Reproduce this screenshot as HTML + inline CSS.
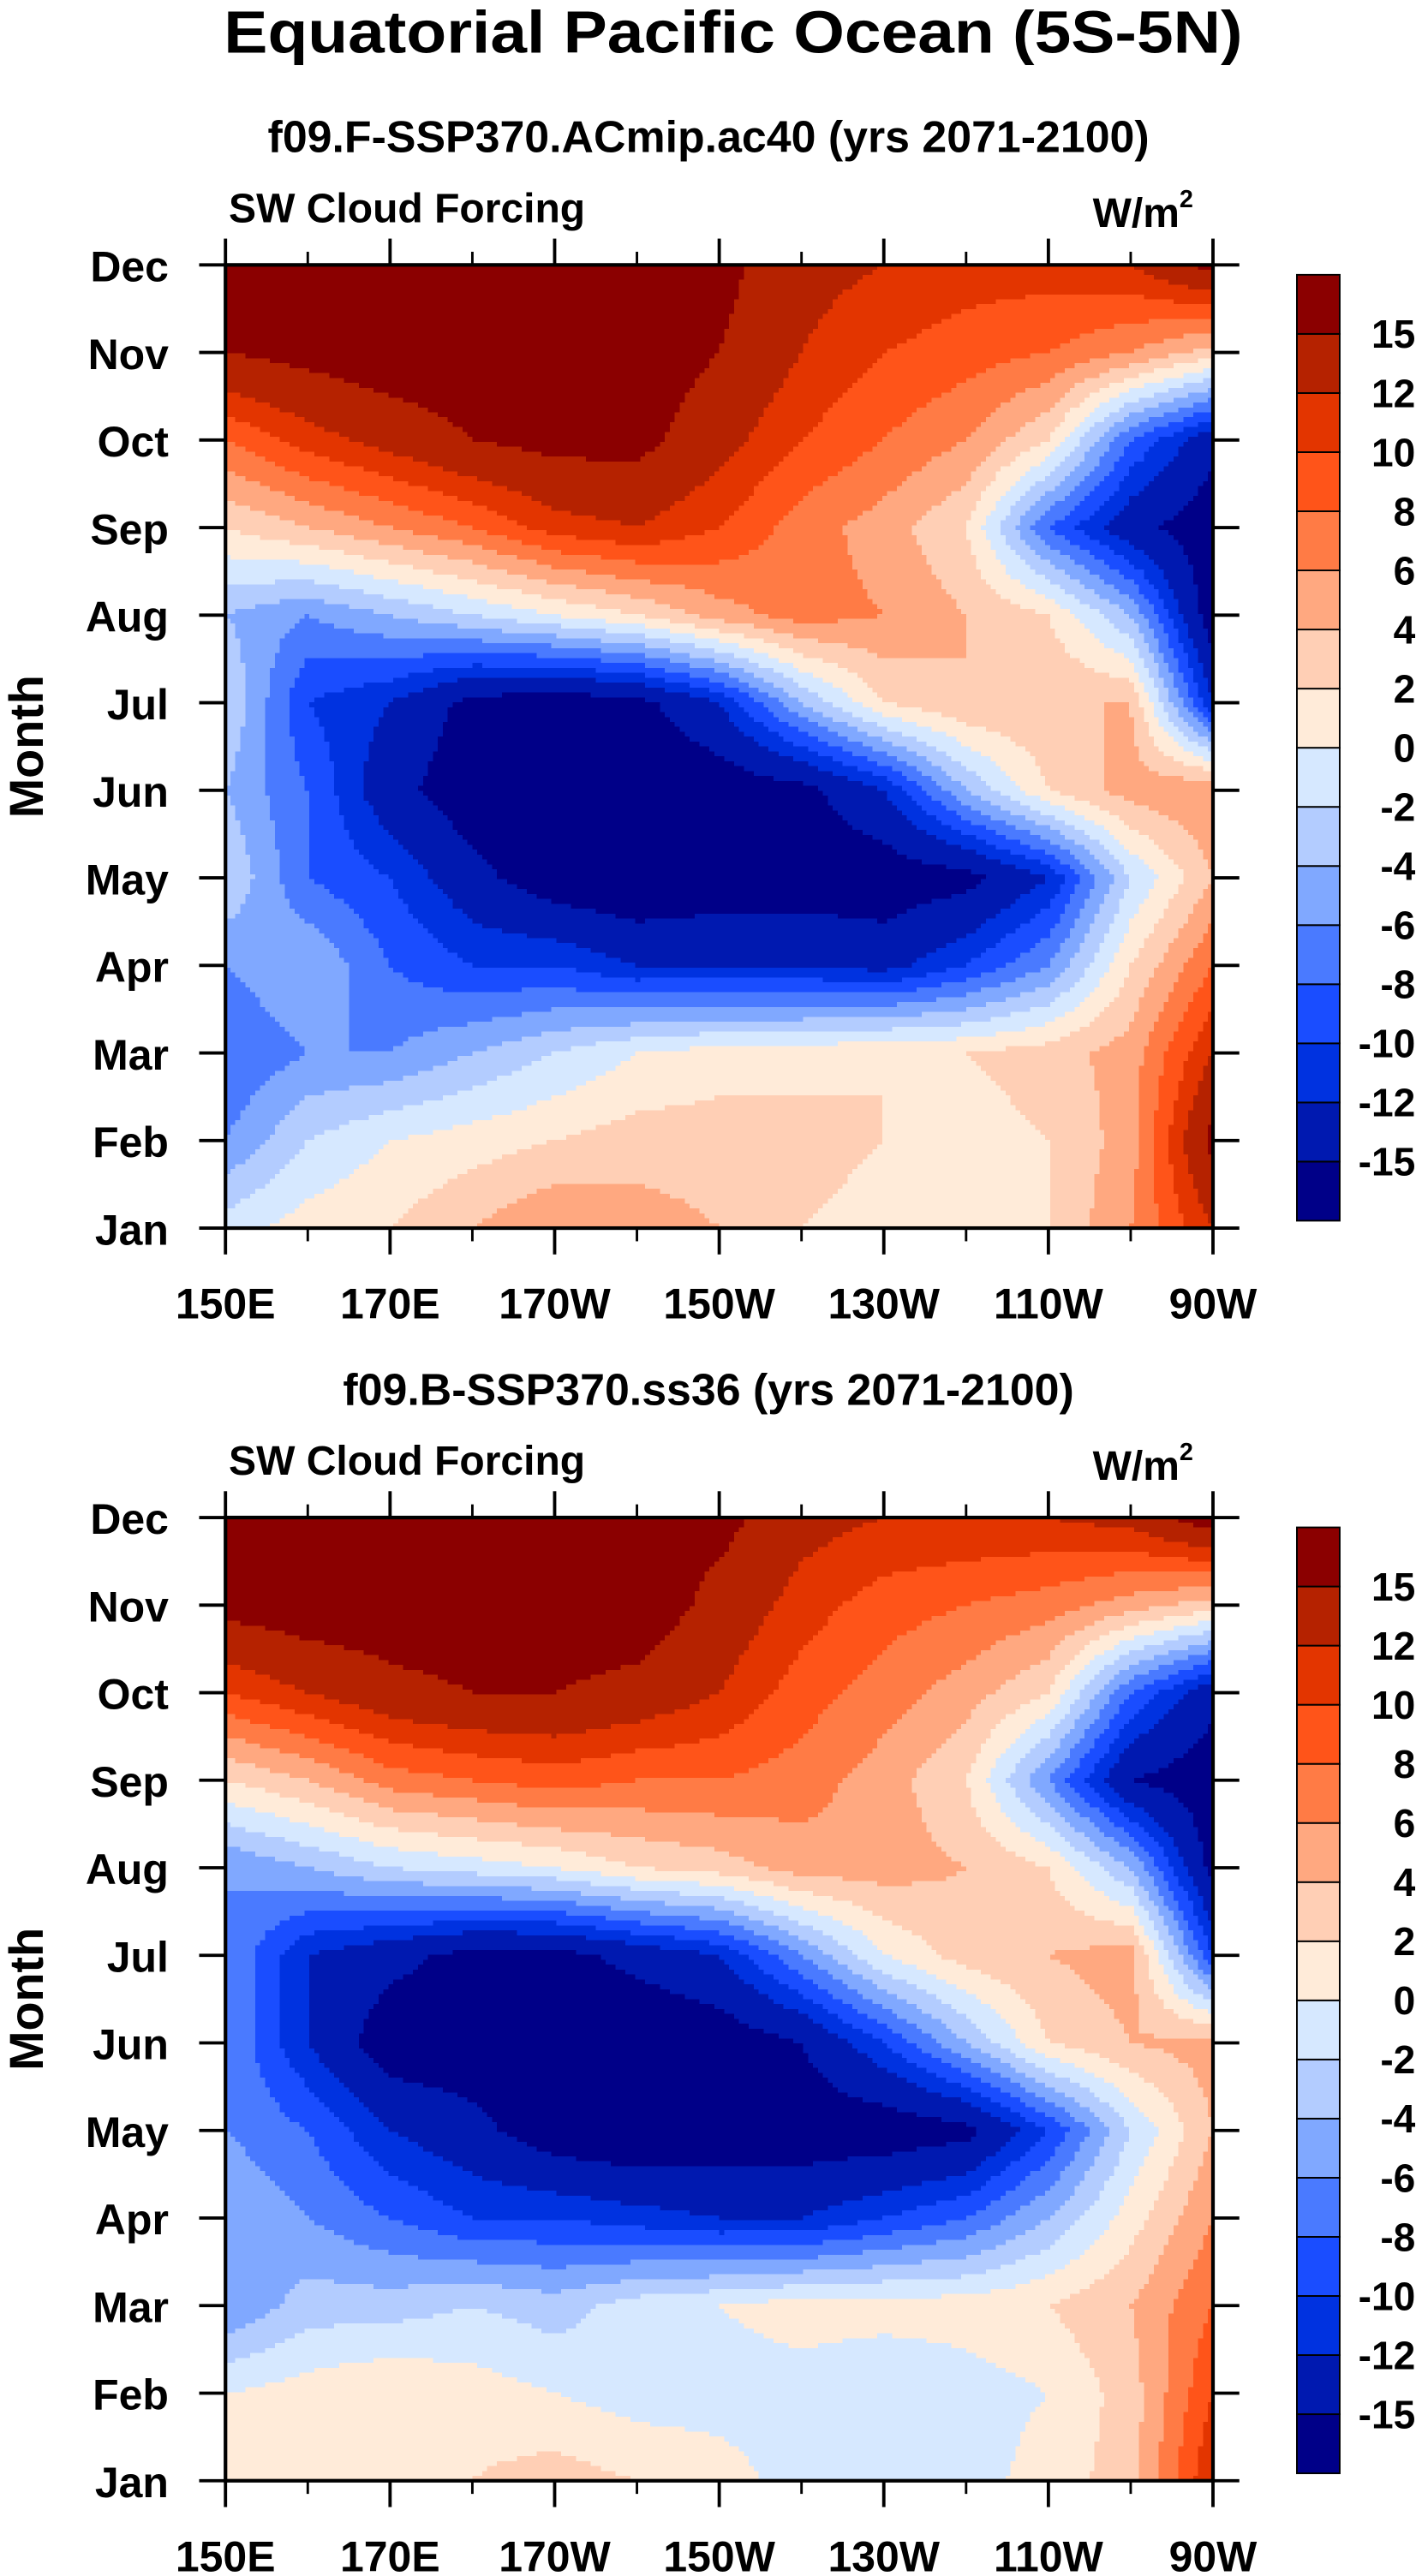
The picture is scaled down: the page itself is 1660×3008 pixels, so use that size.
<!DOCTYPE html>
<html><head><meta charset="utf-8"><style>
html,body{margin:0;padding:0;background:#fff;}
svg{display:block;font-family:"Liberation Sans",Arial,sans-serif;font-weight:bold;}
</style></head><body>
<svg id="fig" xmlns="http://www.w3.org/2000/svg" width="1660" height="3008" viewBox="0 0 864 1565.6">
<text x="445.5" y="32" font-size="36" text-anchor="middle" textLength="619" lengthAdjust="spacingAndGlyphs">Equatorial Pacific Ocean (5S-5N)</text>
</svg>
<script>
const months = ["Jan","Feb","Mar","Apr","May","Jun","Jul","Aug","Sep","Oct","Nov","Dec"];
const lons = [150,160,170,180,190,200,210,220,230,240,250,260,270];
const lonTickLabels = ["150E","170E","170W","150W","130W","110W","90W"];
const lonTicks = [150,170,190,210,230,250,270];
const levels = [-15,-12,-10,-8,-6,-4,-2,0,2,4,6,8,10,12,15];
const levelLabels = ["-15","-12","-10","-8","-6","-4","-2","0","2","4","6","8","10","12","15"];
const colors = ["#000088","#0019b0","#0032e0","#1a4dff","#4a7aff","#80a8ff","#b3ccff","#d6e8ff","#ffebd9","#ffcfb5","#ffa880","#ff7b45","#ff5419","#e33500","#b52200","#8b0000"];
const panel1Title = "f09.F-SSP370.ACmip.ac40 (yrs 2071-2100)";
const panel2Title = "f09.B-SSP370.ss36 (yrs 2071-2100)";
// rows Jan..Dec, columns 150E..90W every 10 degrees
const panel1Values = [
[-1,1,2,4,6,5,4,2,1,1,2,6,12],
[-6,-2,0,1,2,3,3,3,2,1,2,5,16],
[-8,-6,-6,-4,-2,0,1,1,2,2,3,5,12],
[-6,-4,-8,-10,-10,-12,-12,-12,-13,-10,-6,2,8],
[-2,-8,-10,-14,-17,-18,-17,-17,-17,-16,-12,-2,4],
[-4,-8,-14,-17,-18,-18,-17,-16,-12,-4,2,5,6],
[-2,-10,-12,-16,-17,-16,-12,-4,2,4,4,4,-12],
[-4,-6,-4,-2,0,2,5,7,6,4,2,-4,-17],
[2,4,6,8,11,12,10,7,5,2,-8,-14,-17],
[8,11,13,15,16,16,13,10,8,6,2,-8,-14],
[15,16,17,17,17,17,15,12,10,9,8,6,3],
[16,17,17,17,17,17,16,13,12,11,11,12,16]];
const panel2Values = [
[1,2,2,2,3,2,1,-1,-1,-1,1,3,12],
[0,1,2,1,0,-1,-1,-1,-2,-1,0,3,10],
[-6,-3,-3,-2,-3,-1,0,1,1,1,2,4,8],
[-4,-6,-8,-10,-10,-11,-12,-12,-10,-8,-4,1,6],
[-6,-8,-12,-14,-17,-18,-17,-17,-17,-16,-10,-2,4],
[-6,-12,-17,-17,-18,-18,-17,-15,-10,-4,2,4,5],
[-6,-12,-14,-16,-16,-14,-12,-6,0,3,4,5,-10],
[-6,-4,-2,-1,0,2,3,5,5,4,2,-4,-16],
[2,4,7,8,9,8,8,7,5,2,-6,-15,-17],
[10,12,14,15,15,14,12,9,7,5,2,-8,-14],
[16,17,17,17,17,17,14,11,9,8,7,5,3],
[17,17,17,16,17,16,16,13,12,12,12,13,17]];

const NS="http://www.w3.org/2000/svg";
const svg=document.getElementById('fig');
function mk(tag,attrs,parent){const e=document.createElementNS(NS,tag);for(const k in attrs)e.setAttribute(k,attrs[k]);(parent||svg).appendChild(e);return e;}
function colorFor(v){let i=0;while(i<levels.length&&v>=levels[i])i++;return colors[i];}

const PL=137,PR=737,PH=585.4;
function drawPanel(top,title,vals,idx){
  const g=mk('g',{});
  
  
  const x=l=>PL+(l-150)/120*(PR-PL);
  const y=m=>top+PH-m/11*PH;
  const t=mk('text',{x:430.5,y:top-68.5,'font-size':27,'text-anchor':'middle'},g);
  t.textContent=title;
  
  
  const s=mk('text',{x:139,y:top-26,'font-size':25},g);
  s.textContent="SW Cloud Forcing";
  
  
  const u=mk('text',{x:725,y:top-23,'font-size':25,'text-anchor':'end'},g);
  u.innerHTML='W/m<tspan font-size="15" dy="-12">2</tspan>';
  
  
  const fg=mk('g',{'shape-rendering':'crispEdges'},g);
  
  
  const NX=200,NY=196;
  const cw=(PR-PL)/NX,ch=PH/NY;
  for(let j=0;j<NY;j++){
    const m=(NY-j-0.5)/NY*11;
    const m0=Math.min(10,Math.floor(m)),fm=m-m0;
    let runStart=0,runCol=null;
    for(let i=0;i<=NX;i++){
      let c=null;
      if(i<NX){
        const lp=(i+0.5)/NX*12;
        const l0=Math.min(11,Math.floor(lp)),fl=lp-l0;
        const v=(vals[m0][l0]*(1-fl)+vals[m0][l0+1]*fl)*(1-fm)+(vals[m0+1][l0]*(1-fl)+vals[m0+1][l0+1]*fl)*fm;
        c=colorFor(v);
      }
      if(c!==runCol){
        if(runCol!==null){
          const r=mk('rect',{x:(PL+runStart*cw).toFixed(2),y:(top+j*ch).toFixed(2),width:((i-runStart)*cw+0.6).toFixed(2),height:(ch+0.6).toFixed(2),fill:runCol},fg);
          
          
        }
        runStart=i;runCol=c;
      }
    }
  }
  const fr=mk('rect',{x:PL,y:top,width:PR-PL,height:PH,fill:'none',stroke:'#000','stroke-width':2.2},g);
  
  
  for(let l=150;l<=270;l+=10){
    const major=lonTicks.includes(l);
    const L=major?16:8;
    mk('line',{x1:x(l),x2:x(l),y1:top+PH,y2:top+PH+L,stroke:'#000','stroke-width':major?2:1.5},g);
    mk('line',{x1:x(l),x2:x(l),y1:top,y2:top-L,stroke:'#000','stroke-width':major?2:1.5},g);
  }
  lonTicks.forEach((l,k)=>{
    const tl=mk('text',{x:x(l),y:top+PH+55,'font-size':26,'text-anchor':'middle'},g);
    tl.textContent=lonTickLabels[k];
    
    
  });
  months.forEach((mn,k)=>{
    mk('line',{x1:PL-16,x2:PL,y1:y(k),y2:y(k),stroke:'#000','stroke-width':2},g);
    mk('line',{x1:PR,x2:PR+16,y1:y(k),y2:y(k),stroke:'#000','stroke-width':2},g);
    const tl=mk('text',{x:102.5,y:y(k)+10,'font-size':26,'text-anchor':'end'},g);
    tl.textContent=mn;
    
    
  });
  const yl=mk('text',{x:0,y:0,'font-size':29,'text-anchor':'middle',transform:`translate(26,${top+PH/2}) rotate(-90)`},g);
  yl.textContent="Month";
  
  
  const cb=mk('g',{},g);
  
  
  const cbT=top+6,cbB=top+PH-4.5,cbX=788,cbW=26;
  const bh=(cbB-cbT)/colors.length;
  colors.forEach((c,k)=>{
    const r=mk('rect',{x:cbX,y:cbB-(k+1)*bh,width:cbW,height:bh,fill:c,stroke:'#000','stroke-width':1},cb);
    
    
  });
  levelLabels.forEach((lb,k)=>{
    const tl=mk('text',{x:860,y:cbB-(k+1)*bh+8.5,'font-size':24,'text-anchor':'end'},cb);
    tl.textContent=lb;
    
    
  });
}
drawPanel(161,panel1Title,panel1Values,1);
drawPanel(922.3,panel2Title,panel2Values,2);
</script>
</body></html>
